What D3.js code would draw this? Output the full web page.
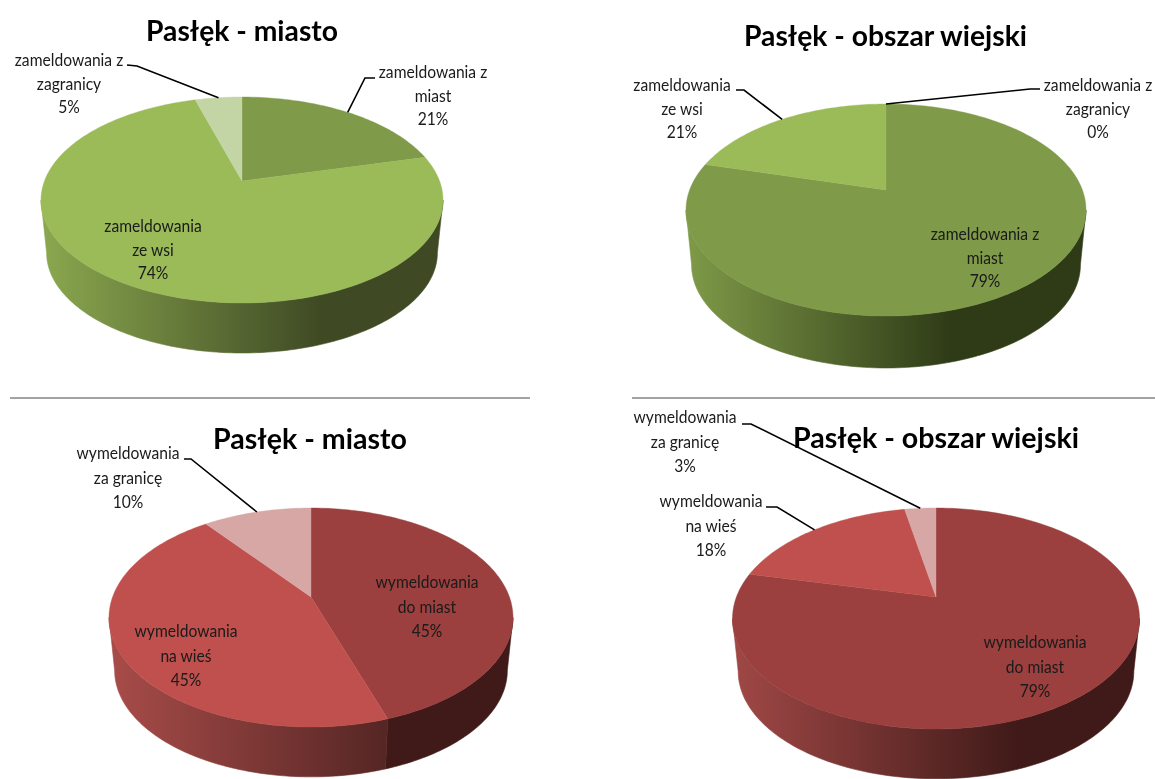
<!DOCTYPE html>
<html><head><meta charset="utf-8">
<style>html,body{margin:0;padding:0;background:#fff}svg{display:block}</style>
<script src="https://cdn.jsdelivr.net/npm/d3@7/dist/d3.min.js"></script>
</head><body><svg id="c" width="1155" height="779"></svg>
<script>
// ---- data
const titles = ["Pasłęk - miasto", "Pasłęk - obszar wiejski", "Pasłęk - miasto", "Pasłęk - obszar wiejski"];
const values1 = [21, 74.5, 4.5];
const values2 = [79.2, 20.8, 0];
const values3 = [44.85, 44.75, 10.4];
const values4 = [78.6, 18.4, 3];
const percents1 = ["21%","74%","5%"];
const percents2 = ["79%","21%","0%"];
const percents3 = ["45%","45%","10%"];
const percents4 = ["79%","18%","3%"];
const labels1 = [["zameldowania z","miast"],["zameldowania","ze wsi"],["zameldowania z","zagranicy"]];
const labels2 = [["zameldowania z","miast"],["zameldowania","ze wsi"],["zameldowania z","zagranicy"]];
const labels3 = [["wymeldowania","do miast"],["wymeldowania","na wieś"],["wymeldowania","za granicę"]];
const labels4 = [["wymeldowania","do miast"],["wymeldowania","na wieś"],["wymeldowania","za granicę"]];

// ---- layout & style
const greens = ["#7f9a48","#9bbb59","#c3d5a5"];
const reds   = ["#9b403e","#c0504d","#d7a7a6"];
const charts = [
 {values:values1,percents:percents1,labels:labels1,title:titles[0],colors:greens,cx:242,cy:181,up:84,down:122,half:201,depth:53.4,
  tx:146,ty:41,tw:192,
  walls:[["#3f4a24","#3f4a24"],["#8ba84f","#3f4a24"],["#3f4a24","#3f4a24"]],wallEnd:320,
  pos:[[433,78],[153,232],[69,66]],leader:[[[375,78],[365,78]],null,[[127,65],[137,66]]]},
 {values:values2,percents:percents2,labels:labels2,title:titles[1],colors:[greens[0],greens[1],greens[0]],cx:886,cy:190,up:86,down:126,half:200,depth:55.5,
  tx:744,ty:46,tw:283,
  walls:[["#7f9a48","#2f3b17"],["#7f9a48","#2f3b17"],["#2f3b17","#2f3b17"]],wallEnd:950,
  pos:[[985,240],[682,91],[1098,91]],leader:[null,[[736,90],[744,90]],[[1040,89],[1030,89]]]},
 {values:values3,percents:percents3,labels:labels3,title:titles[2],colors:reds,cx:311,cy:597,up:89,down:130,half:202,depth:53.5,
  tx:213,ty:449,tw:194,
  walls:[["#3f1a18","#3f1a18"],["#a84c49","#552624"],["#3f1a18","#3f1a18"]],wallEnd:387,
  pos:[[427,588],[186,637],[128,459]],leader:[null,null,[[184,459],[191,459]]]},
 {values:values4,percents:percents4,labels:labels4,title:titles[3],colors:reds,cx:936,cy:597,up:89,down:132,half:203.5,depth:53.5,
  tx:793,ty:448,tw:286,
  walls:[["#a04846","#3f1a18"],["#a04846","#3f1a18"],["#3f1a18","#3f1a18"]],wallEnd:1020,
  pos:[[1035,648],[711,507],[685,423]],leader:[null,[[766,507],[777,507]],[[742,424],[751,424]]]}
];
const labelFont = 17, titleFont = 28, fontFamily = "Lato, 'Open Sans', sans-serif";
const lineGap = 23.5, labelSquash = 0.92, wallTaper = 0.972;

const svg = d3.select("#c");
const defs = svg.append("defs");
defs.append("filter").attr("id","soft").append("feGaussianBlur").attr("stdDeviation",0.35);
defs.append("clipPath").attr("id","rightHalf").append("rect").attr("x",632).attr("y",0).attr("width",523).attr("height",779);

const lineGen = d3.line();

charts.forEach((ch,ci)=>{
  // perspective disc: circle -> ellipse with an off-centre apex
  const a = (ch.down-ch.up)/(ch.down+ch.up);
  const b = ch.up*(1+a);
  const R = ch.half*Math.sqrt(1-a*a);
  const project = ang => {
    const u = Math.sin(ang), v = Math.cos(ang), w = 1+a*v;
    return [R*u/w, -b*v/w];
  };
  const top = ang => { const p = project(ang); return [ch.cx+p[0], ch.cy+p[1]]; };
  const bottom = ang => { const p = project(ang); return [ch.cx+p[0]*wallTaper, ch.cy+p[1]*wallTaper+ch.depth]; };

  const arcs = d3.pie().sort(null)(ch.values);
  const g = svg.append("g");

  const sweepBetween = (s,e) => {
    const n = Math.max(2,Math.ceil((e-s)/0.02));
    return d3.range(n+1).map(i=>s+(e-s)*i/n);
  };
  // the wall is only seen between the two silhouette angles of the disc
  const sil = Math.acos(-a);

  arcs.forEach((d,i)=>{
    const s = Math.max(d.startAngle,sil), e = Math.min(d.endAngle,2*Math.PI-sil);
    if(e<=s) return;
    const id = `wall${ci}_${i}`;
    const lg = defs.append("linearGradient").attr("id",id).attr("gradientUnits","userSpaceOnUse")
      .attr("x1",ch.cx-ch.half).attr("x2",ch.wallEnd).attr("y1",0).attr("y2",0);
    lg.append("stop").attr("offset",0).attr("stop-color",ch.walls[i][0]);
    lg.append("stop").attr("offset",1).attr("stop-color",ch.walls[i][1]);
    const sw = sweepBetween(s,e);
    g.append("path").attr("d",lineGen(sw.map(top).concat(sw.slice().reverse().map(bottom)))+"Z")
      .attr("fill",`url(#${id})`).attr("stroke",`url(#${id})`).attr("stroke-width",0.6);
  });

  arcs.forEach((d,i)=>{
    if(d.endAngle-d.startAngle<=0) return;
    g.append("path").attr("d",lineGen([[ch.cx,ch.cy]].concat(sweepBetween(d.startAngle,d.endAngle).map(top)))+"Z")
      .attr("fill",ch.colors[i]).attr("stroke",ch.colors[i]).attr("stroke-width",0.4);
  });

  // leaders
  arcs.forEach((d,i)=>{
    const l = ch.leader[i]; if(!l) return;
    const end = top((d.startAngle+d.endAngle)/2);
    g.append("path").attr("d",lineGen(l.concat([end]))).attr("fill","none")
      .attr("stroke","#000").attr("stroke-width",1.6);
  });

  // texts
  const tg = svg.append("g").attr("filter","url(#soft)");
  if(ci===3) tg.attr("clip-path","url(#rightHalf)");
  arcs.forEach((d,i)=>{
    const lines = ch.labels[i].concat([ch.percents[i]]);
    lines.forEach((s,j)=>{
      const y = ch.pos[i][1]+j*(ci>=2?24.7:lineGap);
      tg.append("text").attr("transform",`translate(${ch.pos[i][0]},${y}) scale(${labelSquash},1)`)
        .attr("text-anchor","middle").attr("font-family",fontFamily).attr("font-size",labelFont)
        .attr("fill","#1a1a1a").text(s);
    });
  });
  svg.append("text").attr("x",ch.tx).attr("y",ch.ty).attr("font-family",fontFamily)
    .attr("font-weight",700).attr("font-size",titleFont).attr("fill","#000")
    .attr("textLength",ch.tw).attr("lengthAdjust","spacingAndGlyphs").attr("filter","url(#soft)").text(ch.title);
});

// dividers
[[10,530],[632,1155]].forEach(x=>{
  svg.append("line").attr("x1",x[0]).attr("x2",x[1]).attr("y1",398).attr("y2",398)
    .attr("stroke","#858585").attr("stroke-width",1.6);
});
</script></body></html>
